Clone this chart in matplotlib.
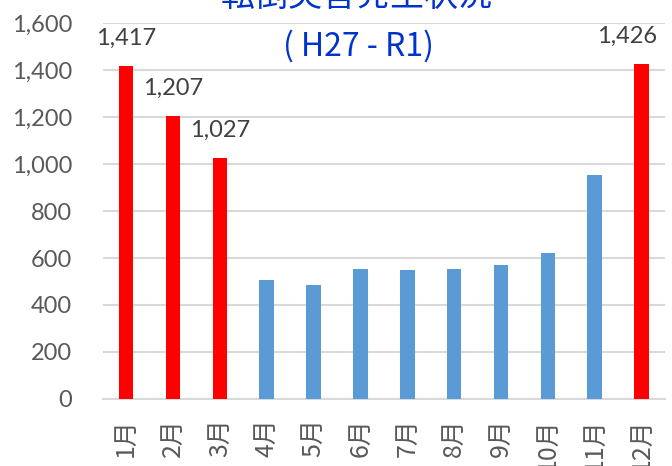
import numpy as np
import matplotlib
matplotlib.use("Agg")
import matplotlib.pyplot as plt

# data
months = ['1月', '2月', '3月', '4月', '5月', '6月', '7月', '8月', '9月', '10月', '11月', '12月']
counts = [1417, 1207, 1027, 508, 484, 555, 549, 552, 572, 623, 956, 1426]
winter = [True, True, True, False, False, False, False, False, False, False, False, True]
title = '転倒災害発生状況'
subtitle = '( H27 - R1)'

red = '#FF0000'
blue = '#5B9BD5'
grid_col = '#D9D9D9'

plt.rcParams['font.family'] = ['Lato', 'Noto Sans CJK JP', 'DejaVu Sans']

fig = plt.figure(figsize=(6.72, 4.66), dpi=100)
ax = fig.add_axes([0.1527, 0.1444, 0.8369, 0.8052])

x = np.arange(len(months))
colors = [red if w else blue for w in winter]
ax.bar(x, counts, width=0.31, color=colors, zorder=3)

ax.set_xlim(-0.5, len(months) - 0.5)
ax.set_ylim(0, 1600)
ax.set_yticks(np.arange(0, 1601, 200))
ax.set_yticklabels([f'{v:,}' for v in range(0, 1601, 200)])
ax.yaxis.grid(True, color=grid_col, linewidth=1.5, zorder=0)

for s in ['top', 'right', 'left']:
    ax.spines[s].set_visible(False)
ax.spines['bottom'].set_color(grid_col)
ax.spines['bottom'].set_linewidth(1.5)

ax.tick_params(axis='y', length=0, pad=22, labelsize=17, labelcolor='#595959')
ax.set_xticks(x)
ax.set_xticklabels(months, rotation=90, family=['Noto Sans CJK JP'],
                   fontsize=18, color='#595959', va='top')
ax.tick_params(axis='x', length=0, pad=14)

# labels only on the red (winter) bars
for i in range(len(months)):
    if not winter[i]:
        continue
    dx = -10.7 if i == len(months) - 1 else 0
    ax.annotate(f'{counts[i]:,}', (x[i], counts[i]), xytext=(dx, 20),
                textcoords='offset points', ha='center', va='center',
                fontsize=17, color='#404040', annotation_clip=False)

# the title sits partly above the picture, as in the reference
fig.text(0.531, 0.987, title, ha='center', va='baseline', fontsize=24.5,
         color='#0033CC', family=['Noto Sans CJK JP'])
fig.text(0.534, 0.8998, subtitle, ha='center', va='center', fontsize=23,
         color='#0033CC', family=['Noto Sans CJK JP'])

fig.savefig('out.png', dpi=100)
